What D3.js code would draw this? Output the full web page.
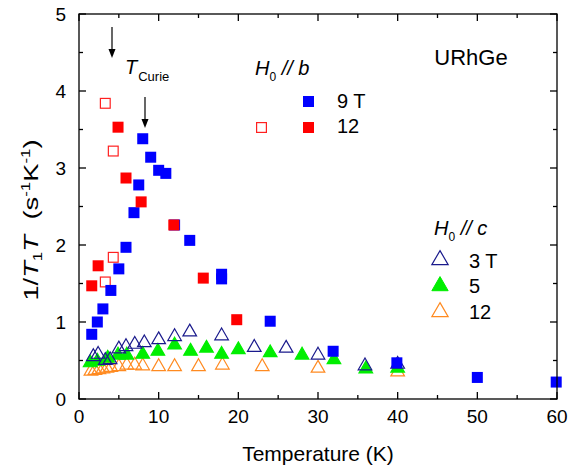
<!DOCTYPE html>
<html><head><meta charset="utf-8">
<script src="https://cdn.jsdelivr.net/npm/d3@7"></script>
<style>body{margin:0;background:#fff}svg text{font-family:"Liberation Sans",Arial,sans-serif}</style>
</head><body><svg id="c" width="576" height="474"></svg>
<script>
// H0 // b
const b9T   = [1.6,2.3,3.0,4.0,5.0,5.9,6.9,7.5,8.0,9.0,10.0,10.9,12.0,13.9,17.9,17.9,24.0,31.9,39.9,50.0,59.9];
const b9V   = [0.84,1.0,1.17,1.41,1.69,1.97,2.42,2.78,3.38,3.14,2.97,2.93,2.26,2.06,1.62,1.56,1.01,0.62,0.47,0.28,0.22];
const b12T  = [1.6,2.4,4.9,5.9,7.8,11.9,15.6,19.8];
const b12V  = [1.47,1.73,3.53,2.87,2.56,2.26,1.57,1.03];
const b12oT = [3.3,4.3,4.3,3.3];
const b12oV = [3.84,3.22,1.84,1.52];
// H0 // c
const c3T  = [1.8,2.4,3.3,3.9,5.0,5.9,7.0,8.2,10.0,12.0,13.9,17.9,22.0,26.0,30.0,35.9,40.0];
const c3V  = [0.55,0.58,0.50,0.51,0.65,0.68,0.71,0.73,0.77,0.81,0.87,0.82,0.67,0.66,0.57,0.43,0.45];
const c5T  = [1.4,2.3,3.6,4.9,6.0,8.0,9.9,12.0,14.0,16.0,17.9,20.0,24.0,28.0,32.0,36.0,40.0];
const c5V  = [0.47,0.49,0.53,0.57,0.57,0.58,0.62,0.70,0.62,0.66,0.58,0.64,0.60,0.57,0.51,0.39,0.40];
const c12T = [1.5,2.0,2.5,3.0,3.5,4.0,5.0,6.0,7.0,8.0,10.0,12.0,15.0,18.0,23.0,30.0,40.0];
const c12V = [0.36,0.37,0.38,0.39,0.40,0.41,0.42,0.44,0.44,0.43,0.42,0.42,0.42,0.44,0.42,0.40,0.35];
const xTicks = [0,10,20,30,40,50,60];
const yTicks = [0,1,2,3,4,5];

const svg = d3.select("#c");
const L=79, R=557, T=14, B=399;
const x = d3.scaleLinear().domain([0,60]).range([L,R]);
const y = d3.scaleLinear().domain([0,5]).range([B,T]);

function sq(g, xs, ys, fill, open){
  const s = open ? 9.8 : 11;
  g.selectAll(null).data(xs.map((d,i)=>[d,ys[i]])).enter().append("rect")
   .attr("x",d=>x(d[0])-s/2).attr("y",d=>y(d[1])-s/2).attr("width",s).attr("height",s)
   .attr("fill",open ? "#fff" : fill).attr("stroke",open ? fill : "none").attr("stroke-width",1.2);
}
function tri(g, xs, ys, fill, stroke){
  const s = d3.symbol().type(d3.symbolTriangle).size(80);
  g.selectAll(null).data(xs.map((d,i)=>[d,ys[i]])).enter().append("path")
   .attr("d",s).attr("transform",d=>`translate(${x(d[0])},${y(d[1])})`)
   .attr("fill",fill).attr("stroke",stroke).attr("stroke-width",1.2);
}
const gd = svg.append("g");
tri(gd, c12T, c12V, "none", "#ff8a20");
tri(gd, c5T, c5V, "#00ee00", "#00ee00");
tri(gd, c3T, c3V, "none", "#1a1a8c");
sq(gd, b12oT, b12oV, "#ff2020", true);
sq(gd, b9T, b9V, "#0000ff", false);
sq(gd, b12T, b12V, "#ff0000", false);

// frame and axes
const ax = svg.append("g").attr("stroke","#000").attr("stroke-width",1.3);
ax.append("rect").attr("x",L).attr("y",T).attr("width",R-L).attr("height",B-T).attr("fill","none");
const xMinor = d3.range(5,60,10), yMinor = d3.range(0.5,5,1);
xTicks.forEach(v=>{ax.append("line").attr("x1",x(v)).attr("x2",x(v)).attr("y1",B).attr("y2",B-7);
  ax.append("line").attr("x1",x(v)).attr("x2",x(v)).attr("y1",T).attr("y2",T+7);});
xMinor.forEach(v=>{ax.append("line").attr("x1",x(v)).attr("x2",x(v)).attr("y1",B).attr("y2",B-4);
  ax.append("line").attr("x1",x(v)).attr("x2",x(v)).attr("y1",T).attr("y2",T+4);});
yTicks.forEach(v=>{ax.append("line").attr("y1",y(v)).attr("y2",y(v)).attr("x1",L).attr("x2",L+7);
  ax.append("line").attr("y1",y(v)).attr("y2",y(v)).attr("x1",R).attr("x2",R-7);});
yMinor.forEach(v=>{ax.append("line").attr("y1",y(v)).attr("y2",y(v)).attr("x1",L).attr("x2",L+4);
  ax.append("line").attr("y1",y(v)).attr("y2",y(v)).attr("x1",R).attr("x2",R-4);});

const tl = svg.append("g").attr("font-size",19).attr("fill","#000");
xTicks.forEach(v=>tl.append("text").attr("x",x(v)).attr("y",B+24).attr("text-anchor","middle").text(v));
yTicks.forEach(v=>tl.append("text").attr("x",L-13).attr("y",y(v)+7).attr("text-anchor","end").text(v));

// axis titles
svg.append("text").attr("x",318).attr("y",461).attr("text-anchor","middle").attr("font-size",21).text("Temperature (K)");
const yl = svg.append("text").attr("transform","translate(38,220) rotate(-90) scale(1.3,1)").attr("text-anchor","middle").attr("font-size",21);
yl.append("tspan").text("1/");
yl.append("tspan").attr("font-style","italic").text("T");
yl.append("tspan").attr("font-size",13).attr("dy",4).text("1");
yl.append("tspan").attr("font-style","italic").attr("dy",-4).text("T");
yl.append("tspan").attr("dx",12).text("(s");
yl.append("tspan").attr("font-size",13).attr("dy",-8).text("-1");
yl.append("tspan").attr("dy",8).text("K");
yl.append("tspan").attr("font-size",13).attr("dy",-8).text("-1");
yl.append("tspan").attr("dy",8).text(")");

// annotations
svg.append("text").attr("x",471).attr("y",65).attr("text-anchor","middle").attr("font-size",22).text("URhGe");
function arrow(xp,y1,y2){
  svg.append("line").attr("x1",xp).attr("x2",xp).attr("y1",y1).attr("y2",y2-6).attr("stroke","#000").attr("stroke-width",1.2);
  svg.append("path").attr("d",`M${xp-3.5},${y2-9}L${xp},${y2}L${xp+3.5},${y2-9}Z`).attr("fill","#000");
}
arrow(112,27,58);
arrow(145,97,128);
const tc = svg.append("text").attr("x",125).attr("y",74).attr("font-size",20);
tc.append("tspan").attr("font-style","italic").text("T");
tc.append("tspan").attr("font-size",13).attr("dy",7).attr("dx",1).text("Curie");

function hlabel(xp,yp,letter){
  const t = svg.append("text").attr("x",xp).attr("y",yp).attr("font-size",20).attr("font-style","italic");
  t.append("tspan").text("H");
  t.append("tspan").attr("font-size",12).attr("dy",6).attr("font-style","normal").text("0");
  t.append("tspan").attr("dy",-6).text(" // "+letter);
}
hlabel(255,75,"b");
hlabel(434,235,"c");

// legend b
const lg = svg.append("g");
lg.append("rect").attr("x",303).attr("y",96).attr("width",11).attr("height",11).attr("fill","#0000ff");
lg.append("rect").attr("x",303).attr("y",122).attr("width",11).attr("height",11).attr("fill","#ff0000");
lg.append("rect").attr("x",256.6).attr("y",122.6).attr("width",9.8).attr("height",9.8).attr("fill","#fff").attr("stroke","#ff2020").attr("stroke-width",1.2);
lg.append("text").attr("x",337).attr("y",108).attr("font-size",20).text("9 T");
lg.append("text").attr("x",337).attr("y",133).attr("font-size",20).text("12");
// legend c
const ts = d3.symbol().type(d3.symbolTriangle).size(115);
lg.append("path").attr("d",ts).attr("transform","translate(440,260)").attr("fill","none").attr("stroke","#1a1a8c").attr("stroke-width",1.2);
lg.append("path").attr("d",ts).attr("transform","translate(440,286)").attr("fill","#00ee00").attr("stroke","#00ee00");
lg.append("path").attr("d",ts).attr("transform","translate(440,312)").attr("fill","none").attr("stroke","#ff8a20").attr("stroke-width",1.2);
lg.append("text").attr("x",469).attr("y",268).attr("font-size",20).text("3 T");
lg.append("text").attr("x",469).attr("y",293).attr("font-size",20).text("5");
lg.append("text").attr("x",469).attr("y",319).attr("font-size",20).text("12");
</script></body></html>
